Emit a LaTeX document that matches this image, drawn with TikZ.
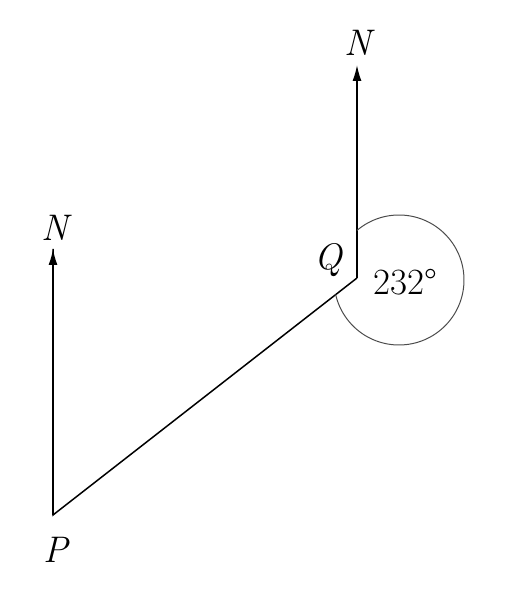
\documentclass[tikz,border=0pt]{standalone}
\usepackage{fontspec}
\usetikzlibrary{arrows.meta}
\begin{document}
\begin{tikzpicture}[x=1pt,y=1pt,
  bear/.style={line width=1.5pt,-{Latex[length=16pt,width=9pt]}},
  seg/.style={line width=1.5pt},
  lbl/.style={font=\fontsize{37}{40}\selectfont\rmfamily\itshape,inner sep=0pt},
  num/.style={font=\fontsize{37}{40}\selectfont\rmfamily,inner sep=0pt},
  arcline/.style={line width=1pt,draw=black!70}]
\useasboundingbox (0,0) rectangle (528,592);
\coordinate (P) at (53,77);
\coordinate (Q) at (357,314);
\coordinate (PN) at (53,343);
\coordinate (QN) at (357,527);
\coordinate (C) at (399,312);
\draw[bear] (P) -- (PN);
\draw[bear] (Q) -- (QN);
\draw[seg,line join=miter] (PN) -- (P) -- (Q);
\draw[arcline] ([shift={(130.3:65)}]C) arc[start angle=130.3,end angle=-167,radius=65];
\node[lbl] (nP) at (55,364) {N};
\node[lbl] (nQ) at (358,549) {N};
\node[lbl] (lQ) at (328,332) {Q};
\node[lbl] (lP) at (56,42) {P};
\node[num] (ang) at (405,310) {232°};
\end{tikzpicture}
\end{document}
